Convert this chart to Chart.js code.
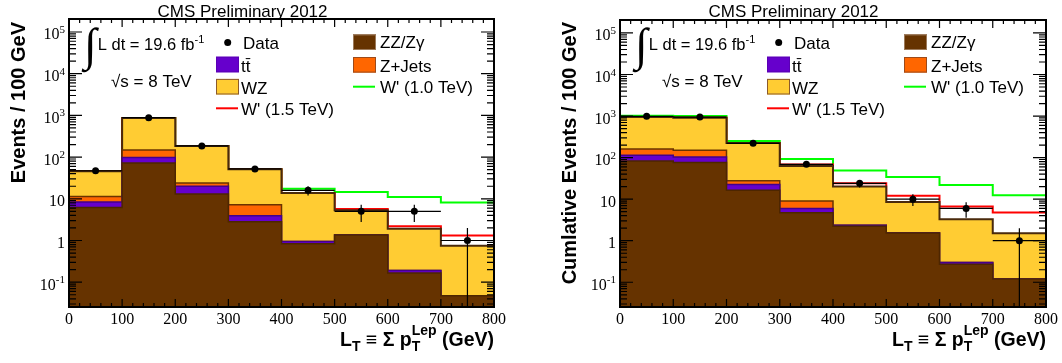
<!DOCTYPE html>
<html>
<head>
<meta charset="utf-8">
<script src="https://cdn.jsdelivr.net/npm/chart.js@4.4.1/dist/chart.umd.min.js"></script>
<style>
  html, body { margin: 0; padding: 0; background: #fff; }
  #wrap { display: flex; width: 1062px; height: 363px; }
  canvas { display: block; }
</style>
</head>
<body>
<div id="wrap">
  <canvas id="perBin" width="531" height="363"></canvas>
  <canvas id="cumulative" width="531" height="363"></canvas>
</div>
<script>
// L_T binning (GeV), 100 GeV per bin
const binEdges = [0, 100, 200, 300, 400, 500, 600, 700, 800];

// events per bin
const dataPerBin  = [47, 880, 185, 52, 16, 5, 5, 1];
const zzPerBin    = [6.2, 72, 13, 2.8, 0.84, 1.36, 0.166, 0.047];
const ttPerBin    = [2.2, 26, 7, 1.1, 0.1, 0, 0.024, 0];
const zjetsPerBin = [3.0, 50, 4, 3.3, 0, 0, 0, 0];
const wzPerBin    = [34.6, 719, 161, 43.8, 12.86, 3.94, 1.73, 0.703];
// background + signal
const wp10PerBin  = [46, 867, 185, 51, 17.5, 14.6, 11, 8.1];
const wp15PerBin  = [46, 867, 185, 51, 13.8, 5.7, 2.2, 1.32];

// cumulative events above the bin's lower edge
const dataCumul   = [985, 945, 221, 69, 24, 10, 6, 1];
const zzCumul     = [83, 76, 16.5, 4.7, 2.23, 1.54, 0.27, 0.12];
const ttCumul     = [31, 28, 6.1, 1.3, 0.12, 0, 0.03, 0];
const zjetsCumul  = [48, 46, 5.0, 3.0, 0, 0, 0, 0];
const wzCumul     = [784, 766, 197.4, 54, 17.95, 6.96, 2.98, 1.39];
const wp10Cumul   = [1020, 1000, 251, 92, 49, 34, 22, 12.5];
const wp15Cumul   = [946, 916, 225, 68, 24, 12.1, 6.7, 4.8];

const yTickPowers = [-1, 0, 1, 2, 3, 4, 5];
const xTickLabels = [0, 100, 200, 300, 400, 500, 600, 700, 800];
const yMin = 0.0254, yMax = 2.05e5;

const SANS = '"Liberation Sans", Arial, sans-serif';
const SERIF = '"Liberation Serif", "Times New Roman", serif';

const colors = {
  zz: '#663300', tt: '#6600cc', zjets: '#ff6600', wz: '#ffcc33',
  wp10: '#00ff00', wp15: '#ff0000'
};

// running sums of the stacked components, bottom first
function stackTops(parts) {
  let run = parts[0].map(() => 0);
  return parts.map(p => (run = run.map((v, i) => v + p[i])));
}

// histogram outline: one point per lower edge plus the closing edge
function stepPoints(vals) {
  const pts = vals.map((v, i) => ({ x: binEdges[i], y: v }));
  pts.push({ x: binEdges[binEdges.length - 1], y: vals[vals.length - 1] });
  return pts;
}

function histDataset(vals, fill, border, width) {
  return {
    data: stepPoints(vals), stepped: 'before', fill: 'start',
    backgroundColor: fill, borderColor: border, borderWidth: width,
    pointRadius: 0
  };
}

function lineDataset(vals, color) {
  return {
    data: stepPoints(vals), stepped: 'before', fill: false,
    borderColor: color, borderWidth: 2, pointRadius: 0
  };
}

function drawErrorBars(chart, counts) {
  const { ctx, chartArea: a, scales: { x, y } } = chart;
  ctx.save();
  ctx.beginPath();
  ctx.rect(a.left, a.top, a.right - a.left, a.bottom - a.top);
  ctx.clip();
  ctx.strokeStyle = '#000';
  ctx.lineWidth = 1.2;
  counts.forEach((n, i) => {
    const err = Math.sqrt(n);
    const py = y.getPixelForValue(n);
    const yHi = y.getPixelForValue(n + err);
    const yLo = n - err > yMin ? y.getPixelForValue(n - err) : a.bottom;
    const px = x.getPixelForValue((binEdges[i] + binEdges[i + 1]) / 2);
    ctx.beginPath();
    ctx.moveTo(x.getPixelForValue(binEdges[i]), py);
    ctx.lineTo(x.getPixelForValue(binEdges[i + 1]), py);
    ctx.moveTo(px, yHi);
    ctx.lineTo(px, yLo);
    ctx.stroke();
  });
  ctx.restore();
}

function drawFrame(chart) {
  const { ctx, chartArea: a, scales: { x, y } } = chart;
  ctx.save();
  ctx.strokeStyle = '#000';
  ctx.lineWidth = 1.2;
  ctx.beginPath();
  for (let v = 0; v <= 800; v += 20) {
    const px = x.getPixelForValue(v);
    const len = v % 100 === 0 ? 8 : 4;
    ctx.moveTo(px, a.bottom); ctx.lineTo(px, a.bottom - len);
    ctx.moveTo(px, a.top); ctx.lineTo(px, a.top + len);
  }
  for (let p = -2; p <= 5; p++) {
    for (let m = 1; m <= 9; m++) {
      const v = m * Math.pow(10, p);
      if (v < yMin || v > yMax) continue;
      const py = y.getPixelForValue(v);
      const len = m === 1 ? 13 : 7;
      ctx.moveTo(a.left, py); ctx.lineTo(a.left + len, py);
      ctx.moveTo(a.right, py); ctx.lineTo(a.right - len, py);
    }
  }
  ctx.stroke();
  ctx.lineWidth = 2;
  ctx.strokeRect(a.left, a.top, a.right - a.left, a.bottom - a.top);
  ctx.restore();
}

function drawTickLabels(chart) {
  const { ctx, chartArea: a, scales: { x, y } } = chart;
  ctx.save();
  ctx.fillStyle = '#000';
  ctx.textBaseline = 'alphabetic';
  ctx.font = '16px ' + SERIF;
  ctx.textAlign = 'center';
  xTickLabels.forEach(v => ctx.fillText(String(v), x.getPixelForValue(v), a.bottom + 17));
  ctx.textAlign = 'right';
  yTickPowers.forEach(p => {
    const py = y.getPixelForValue(Math.pow(10, p));
    const right = a.left - 4;
    if (p === 0 || p === 1) {
      ctx.font = '16px ' + SERIF;
      ctx.fillText(p === 0 ? '1' : '10', right, py + 7.5);
    } else {
      ctx.font = '11px ' + SERIF;
      const sup = String(p);
      const w = ctx.measureText(sup).width;
      ctx.fillText(sup, right, py + 1);
      ctx.font = '16px ' + SERIF;
      ctx.fillText('10', right - w, py + 7.5);
    }
  });
  ctx.restore();
}

// draws a run of pieces right-aligned at xRight; stacked parts share one slot
function drawRun(ctx, pieces, xRight, base) {
  let total = 0;
  const widths = pieces.map(pc => {
    let w = 0;
    pc.parts.forEach(([t, f]) => { ctx.font = f; w = Math.max(w, ctx.measureText(t).width); });
    total += w;
    return w;
  });
  let cx = xRight - total;
  pieces.forEach((pc, i) => {
    pc.parts.forEach(([t, f, dy]) => { ctx.font = f; ctx.fillText(t, cx, base + dy); });
    cx += widths[i];
  });
}

function drawTexts(chart, panel) {
  const { ctx, chartArea: a } = chart;
  const L = a.left;
  ctx.save();
  ctx.fillStyle = '#000';
  ctx.textBaseline = 'alphabetic';

  ctx.font = '17px ' + SANS;
  ctx.textAlign = 'center';
  ctx.fillText('CMS Preliminary 2012', L + 173.5, 16.7);

  // y title
  ctx.save();
  ctx.translate(L - 44, 22);
  ctx.rotate(-Math.PI / 2);
  ctx.textAlign = 'right';
  ctx.font = 'bold 20px ' + SANS;
  ctx.fillText(panel.yTitle, 0, 0);
  ctx.restore();

  // x title
  ctx.textAlign = 'left';
  const big = 'bold 19.5px ' + SANS, small = 'bold 14px ' + SANS;
  drawRun(ctx, [
    { parts: [['L', big, 0]] },
    { parts: [['T', small, 5]] },
    { parts: [[' \u2261 \u03a3 ', big, 0]] },
    { parts: [['p', big, 0]] },
    { parts: [['T', small, 5], ['Lep', small, -11]] },
    { parts: [[' (GeV)', big, 0]] }
  ], a.right, 345.7);

  // luminosity and energy
  ctx.font = '46px ' + SERIF;
  ctx.fillText('\u222b', L + 15, 60);
  ctx.font = '16.5px ' + SANS;
  const lumi = 'L dt = 19.6 fb';
  ctx.fillText(lumi, L + 28.7, 49.5);
  const lw = ctx.measureText(lumi).width;
  ctx.font = '11px ' + SANS;
  ctx.fillText('-1', L + 28.7 + lw, 43);
  ctx.font = '17px ' + SANS;
  ctx.fillText('\u221as = 8 TeV', L + 42, 87);

  // legend
  ctx.font = '17px ' + SANS;
  ctx.beginPath();
  ctx.arc(L + 158.7, 42.5, 3.5, 0, Math.PI * 2);
  ctx.fill();
  ctx.fillText('Data', L + 174, 48.5);

  const box = (x0, yc, fill, edge) => {
    ctx.fillStyle = fill;
    ctx.fillRect(x0, yc - 7.8, 23, 15.6);
    ctx.strokeStyle = edge;
    ctx.lineWidth = 1;
    ctx.strokeRect(x0 + 0.5, yc - 7.3, 22, 14.6);
    ctx.fillStyle = '#000';
  };
  const seg = (x0, yc, color) => {
    ctx.strokeStyle = color;
    ctx.lineWidth = 2;
    ctx.beginPath();
    ctx.moveTo(x0, yc); ctx.lineTo(x0 + 22, yc);
    ctx.stroke();
  };

  box(L + 147, 64.5, colors.tt, '#5a00b4');
  ctx.fillText('t\u0074\u0304', L + 172, 71.5);
  box(L + 147, 86.7, colors.wz, '#8b5a2b');
  ctx.fillText('WZ', L + 172, 93.5);
  seg(L + 147, 108.3, colors.wp15);
  ctx.fillText("W' (1.5 TeV)", L + 172, 114.5);

  box(L + 284, 42.2, colors.zz, '#9c7a5a');
  ctx.fillText('ZZ/Z\u03b3', L + 311, 48.3);
  box(L + 284, 64.8, colors.zjets, '#9c4a1a');
  ctx.fillText('Z+Jets', L + 311, 71.5);
  seg(L + 284, 86.7, colors.wp10);
  ctx.fillText("W' (1.0 TeV)", L + 311, 93.3);

  ctx.restore();
}

function makeChart(panel) {
  const [zzTop, ttTop, zjTop, wzTop] = stackTops(panel.parts);
  const centers = binEdges.slice(0, -1).map((e, i) => (e + binEdges[i + 1]) / 2);
  return new Chart(panel.id, {
    type: 'line',
    data: {
      datasets: [
        {
          data: panel.counts.map((n, i) => ({ x: centers[i], y: n })),
          showLine: false, pointRadius: 3.5, pointBorderWidth: 0,
          pointBackgroundColor: '#000', borderColor: '#000'
        },
        histDataset(zzTop, colors.zz, '#4d2600', 1.5),
        histDataset(ttTop, colors.tt, '#44008a', 1.5),
        histDataset(zjTop, colors.zjets, '#6b3300', 1.5),
        histDataset(wzTop, colors.wz, '#4a2a0c', 2),
        lineDataset(panel.wp15, colors.wp15),
        lineDataset(panel.wp10, colors.wp10)
      ]
    },
    options: {
      responsive: false,
      animation: false,
      events: [],
      layout: { padding: panel.padding },
      plugins: { legend: { display: false }, tooltip: { enabled: false } },
      scales: {
        x: { type: 'linear', min: 0, max: 800, display: false },
        y: { type: 'logarithmic', min: yMin, max: yMax, display: false }
      }
    },
    plugins: [{
      id: 'histDecor',
      beforeDatasetDraw(chart, args) {
        if (args.index === 0) drawErrorBars(chart, panel.counts);
      },
      afterDraw(chart) {
        drawFrame(chart);
        drawTickLabels(chart);
        drawTexts(chart, panel);
      }
    }]
  });
}

makeChart({
  id: 'perBin',
  yTitle: 'Events / 100 GeV',
  counts: dataPerBin,
  parts: [zzPerBin, ttPerBin, zjetsPerBin, wzPerBin],
  wp10: wp10PerBin, wp15: wp15PerBin,
  padding: { left: 69, right: 37, top: 19, bottom: 56 }
});

makeChart({
  id: 'cumulative',
  yTitle: 'Cumlative Events / 100 GeV',
  counts: dataCumul,
  parts: [zzCumul, ttCumul, zjetsCumul, wzCumul],
  wp10: wp10Cumul, wp15: wp15Cumul,
  padding: { left: 89, right: 16, top: 20, bottom: 56 }
});
</script>
</body>
</html>
